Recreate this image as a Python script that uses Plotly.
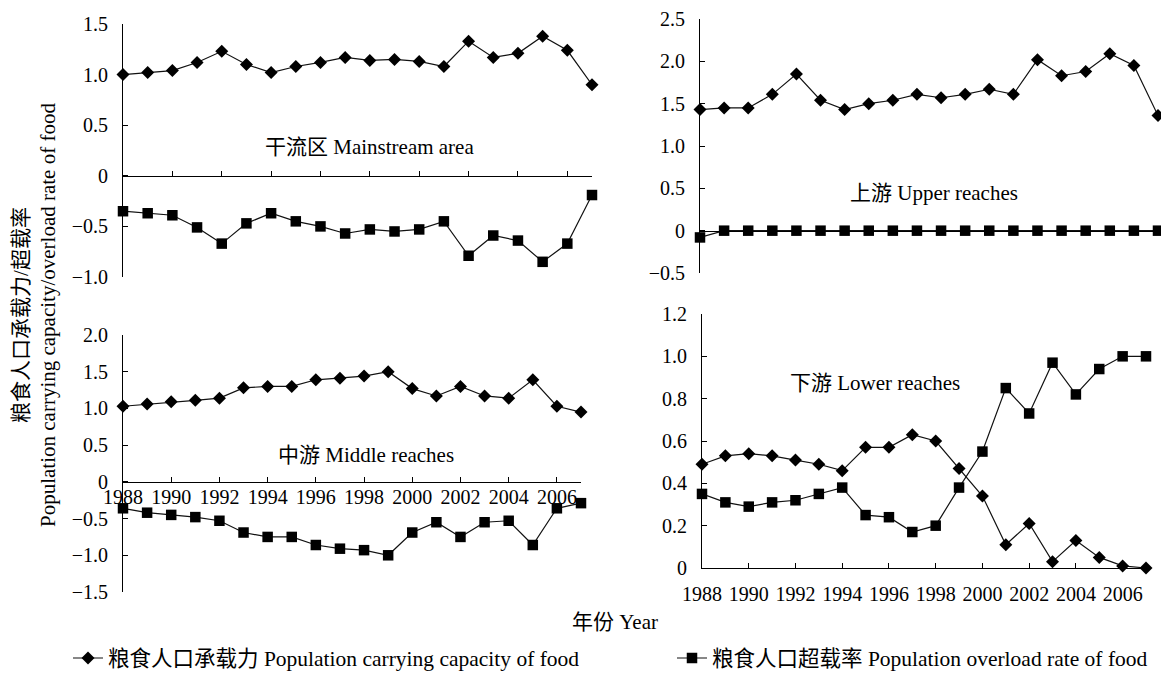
import plotly.graph_objects as go

# ---------------- data ----------------
years = list(range(1988, 2008))

main_capacity = [1.00, 1.02, 1.04, 1.12, 1.23, 1.10, 1.02, 1.08, 1.12, 1.17,
                 1.14, 1.15, 1.13, 1.08, 1.33, 1.17, 1.21, 1.38, 1.24, 0.90]
main_overload = [-0.35, -0.37, -0.39, -0.51, -0.67, -0.47, -0.37, -0.45, -0.50, -0.57,
                 -0.53, -0.55, -0.53, -0.45, -0.79, -0.59, -0.64, -0.85, -0.67, -0.19]

upper_capacity = [1.43, 1.45, 1.45, 1.61, 1.85, 1.54, 1.43, 1.50, 1.54, 1.61,
                  1.57, 1.61, 1.67, 1.61, 2.02, 1.83, 1.88, 2.09, 1.95, 1.36]
upper_overload = [-0.08, 0, 0, 0, 0, 0, 0, 0, 0, 0,
                  0, 0, 0, 0, 0, 0, 0, 0, 0, 0]

middle_capacity = [1.03, 1.06, 1.09, 1.11, 1.14, 1.28, 1.30, 1.30, 1.39, 1.41,
                   1.44, 1.50, 1.27, 1.17, 1.30, 1.17, 1.14, 1.39, 1.03, 0.95]
middle_overload = [-0.36, -0.42, -0.45, -0.48, -0.53, -0.69, -0.75, -0.75, -0.86, -0.91,
                   -0.93, -1.00, -0.69, -0.55, -0.75, -0.55, -0.53, -0.86, -0.36, -0.29]

lower_capacity = [0.49, 0.53, 0.54, 0.53, 0.51, 0.49, 0.46, 0.57, 0.57, 0.63,
                  0.60, 0.47, 0.34, 0.11, 0.21, 0.03, 0.13, 0.05, 0.01, 0.00]
lower_overload = [0.35, 0.31, 0.29, 0.31, 0.32, 0.35, 0.38, 0.25, 0.24, 0.17,
                  0.20, 0.38, 0.55, 0.85, 0.73, 0.97, 0.82, 0.94, 1.00, 1.00]

x_tick_vals = [1988, 1990, 1992, 1994, 1996, 1998, 2000, 2002, 2004, 2006]
x_tick_text = [str(v) for v in x_tick_vals]

tl_y_vals = [-1.0, -0.5, 0, 0.5, 1.0, 1.5]
tl_y_text = ["\u22121.0", "\u22120.5", "0", "0.5", "1.0", "1.5"]
tr_y_vals = [-0.5, 0, 0.5, 1.0, 1.5, 2.0, 2.5]
tr_y_text = ["\u22120.5", "0", "0.5", "1.0", "1.5", "2.0", "2.5"]
bl_y_vals = [-1.5, -1.0, -0.5, 0, 0.5, 1.0, 1.5, 2.0]
bl_y_text = ["\u22121.5", "\u22121.0", "\u22120.5", "0", "0.5", "1.0", "1.5", "2.0"]
br_y_vals = [0, 0.2, 0.4, 0.6, 0.8, 1.0, 1.2]
br_y_text = ["0", "0.2", "0.4", "0.6", "0.8", "1.0", "1.2"]

name_capacity = "粮食人口承载力 Population carrying capacity of food"
name_overload = "粮食人口超载率 Population overload rate of food"

# ---------------- layout geometry (screen pixels) ----------------
WIN_W, WIN_H = 1169, 673
OFF = 8  # default page body margin in the browser
W, H = WIN_W - OFF, WIN_H - OFF
FONT = "Liberation Serif, Noto Sans CJK SC, serif"

panels = {
    # key: (x_left_px, x_right_px, y_top_px, y_bottom_px, yrange)
    "tl": (123, 592, 24, 277, [-1.0, 1.5]),
    "tr": (700, 1158, 19, 273, [-0.5, 2.5]),
    "bl": (123, 581, 335, 592, [-1.5, 2.0]),
    "br": (702, 1146, 314, 568, [0, 1.2]),
}


def px(x):
    return (x - OFF) / W


def py(y):
    return 1 - (y - OFF) / H


def xdom(p):
    return [px(p[0]), px(p[1])]


def ydom(p):
    return [py(p[3]), py(p[2])]


def zero_pos(p):
    lo, hi = p[4]
    d = ydom(p)
    return d[0] + (0 - lo) / (hi - lo) * (d[1] - d[0])


fig = go.Figure()

series = [
    ("tl", main_capacity, main_overload, "x", "y"),
    ("tr", upper_capacity, upper_overload, "x2", "y2"),
    ("bl", middle_capacity, middle_overload, "x3", "y3"),
    ("br", lower_capacity, lower_overload, "x4", "y4"),
]

for i, (key, cap, ovl, xa, ya) in enumerate(series):
    fig.add_trace(go.Scatter(
        x=years, y=cap, xaxis=xa, yaxis=ya, mode="lines+markers",
        name=name_capacity, showlegend=(i == 0), legend="legend",
        line=dict(color="#111111", width=1.2),
        marker=dict(symbol="diamond", size=10, color="black"),
        cliponaxis=False,
    ))
    fig.add_trace(go.Scatter(
        x=years, y=ovl, xaxis=xa, yaxis=ya, mode="lines+markers",
        name=name_overload, showlegend=(i == 0), legend="legend2",
        line=dict(color="#111111", width=1.2),
        marker=dict(symbol="square", size=10.5, color="black"),
        cliponaxis=False,
    ))

tick_font = dict(family="Liberation Serif", size=20, color="black")


def xaxis_cfg(p, labels, free_zero, standoff):
    cfg = dict(
        domain=xdom(p), range=[1988, 2007], showline=True, linecolor="black",
        linewidth=1, ticks="inside", ticklen=5, tickcolor="black",
        tickvals=x_tick_vals, ticktext=x_tick_text, showticklabels=labels,
        showgrid=False, zeroline=False, tickfont=tick_font,
        ticklabelstandoff=standoff, automargin=False,
    )
    if free_zero:
        cfg["anchor"] = "free"
        cfg["position"] = zero_pos(p)
    return cfg


def yaxis_cfg(p, anchor, vals, text):
    return dict(
        domain=ydom(p), range=p[4], anchor=anchor, showline=True,
        linecolor="black", linewidth=1, ticks="inside", ticklen=5,
        tickcolor="black", tickvals=vals, ticktext=text, showgrid=False,
        zeroline=False, tickfont=tick_font, ticklabelstandoff=10,
        automargin=False,
    )


legend_font = dict(family=FONT, size=21.5, color="black")

fig.update_layout(
    template="none",
    width=W, height=H, margin=dict(l=0, r=0, t=0, b=0, pad=0, autoexpand=False),
    paper_bgcolor="white", plot_bgcolor="rgba(0,0,0,0)",
    font=dict(family=FONT, size=21, color="black"),
    xaxis=xaxis_cfg(panels["tl"], False, True, 0),
    yaxis=yaxis_cfg(panels["tl"], "x", tl_y_vals, tl_y_text),
    xaxis2=xaxis_cfg(panels["tr"], False, True, 0),
    yaxis2=yaxis_cfg(panels["tr"], "x2", tr_y_vals, tr_y_text),
    xaxis3=xaxis_cfg(panels["bl"], True, True, -3),
    yaxis3=yaxis_cfg(panels["bl"], "x3", bl_y_vals, bl_y_text),
    xaxis4=dict(xaxis_cfg(panels["br"], True, False, 8), anchor="y4"),
    yaxis4=yaxis_cfg(panels["br"], "x4", br_y_vals, br_y_text),
    legend=dict(x=px(68), y=py(658), xanchor="left", yanchor="middle",
                orientation="h", itemwidth=30, bgcolor="rgba(0,0,0,0)",
                font=legend_font),
    legend2=dict(x=px(672), y=py(658), xanchor="left", yanchor="middle",
                 orientation="h", itemwidth=30, bgcolor="rgba(0,0,0,0)",
                 font=legend_font),
    showlegend=True,
)

annot_font = dict(family=FONT, size=21, color="black")
fig.add_annotation(text="干流区 Mainstream area", x=1998.0, y=0.285, xref="x", yref="y",
                   showarrow=False, font=annot_font)
fig.add_annotation(text="上游 Upper reaches", x=1997.7, y=0.445, xref="x2", yref="y2",
                   showarrow=False, font=annot_font)
fig.add_annotation(text="中游 Middle reaches", x=1998.1, y=0.366, xref="x3", yref="y3",
                   showarrow=False, font=annot_font)
fig.add_annotation(text="下游 Lower reaches", x=1995.4, y=0.874, xref="x4", yref="y4",
                   showarrow=False, font=annot_font)

fig.add_annotation(text="年份 Year", x=px(615), y=py(622), xref="paper", yref="paper",
                   xanchor="center", yanchor="middle",
                   showarrow=False, font=annot_font)
fig.add_annotation(text="粮食人口承载力/超载率<br>Population carrying capacity/overload rate of food",
                   x=px(34), y=py(315), xref="paper", yref="paper", textangle=-90,
                   xanchor="center", yanchor="middle",
                   showarrow=False, font=dict(family=FONT, size=21, color="black"))

fig.write_html("out.html")
